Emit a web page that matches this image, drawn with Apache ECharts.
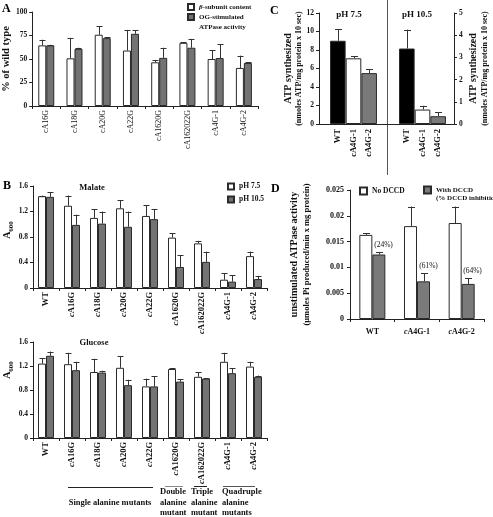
<!DOCTYPE html>
<html><head><meta charset="utf-8">
<script src="https://cdn.jsdelivr.net/npm/echarts@6/dist/echarts.min.js"></script>
<style>html,body{margin:0;padding:0;background:#fff}#c{width:493px;height:517px}</style>
</head><body><div id="c"></div>
<script>
// ---------- Panel A ----------
const aCategories = ['cA16G','cA18G','cA20G','cA22G','cA1620G','cA162022G','cA4G-1','cA4G-2'];
const aBeta      = [64.5, 50.7, 75.8, 59.0, 46.5, 67.2, 50.0, 40.5];
const aBetaErr   = [70.5, 72.5, 85.0, 81.0, 49.0, 68.0, 59.6, 53.6];
const aOG        = [64.5, 60.8, 72.2, 76.8, 51.2, 62.0, 51.0, 45.8];
const aOGErr     = [65.2, 62.0, 73.3, 80.4, 62.0, 71.4, 66.0, 46.5];
const aTicks     = [0, 25, 50, 75, 100];
// ---------- Panel B ----------
const bCategories   = ['WT','cA16G','cA18G','cA20G','cA22G','cA1620G','cA162022G','cA4G-1','cA4G-2'];
const malate75      = [1.44, 1.29, 1.10, 1.25, 1.13, 0.79, 0.70, 0.13, 0.50];
const malate75Err   = [1.45, 1.45, 1.24, 1.38, 1.30, 0.86, 0.74, 0.23, 0.57];
const malate105     = [1.43, 0.99, 1.01, 0.96, 1.08, 0.33, 0.41, 0.10, 0.14];
const malate105Err  = [1.50, 1.15, 1.20, 1.20, 1.24, 0.51, 0.57, 0.20, 0.19];
const glucose75     = [1.24, 1.23, 1.10, 1.17, 0.86, 1.15, 1.02, 1.27, 1.19];
const glucose75Err  = [1.33, 1.42, 1.32, 1.36, 0.99, 1.16, 1.10, 1.42, 1.27];
const glucose105    = [1.37, 1.13, 1.09, 0.88, 0.86, 0.94, 0.99, 1.08, 1.02];
const glucose105Err = [1.44, 1.27, 1.12, 0.97, 1.03, 0.98, 1.00, 1.16, 1.04];
const bTicks        = [0, 0.4, 0.8, 1.2, 1.6];
// ---------- Panel C ----------
const cCategories = ['WT','cA4G-1','cA4G-2'];
const cPH75       = [9.0, 7.1, 5.5];
const cPH75Err    = [10.25, 7.3, 5.9];
const cPH105      = [3.4, 0.65, 0.35];
const cPH105Err   = [4.25, 0.82, 0.54];
const cLeftTicks  = [0, 2, 4, 6, 8, 10, 12];
const cRightTicks = [0, 1, 2, 3, 4, 5];
// ---------- Panel D ----------
const dCategories  = ['WT','cA4G-1','cA4G-2'];
const dNoDCCD      = [0.0163, 0.0180, 0.0186];
const dNoDCCDErr   = [0.0166, 0.0218, 0.0218];
const dWithDCCD    = [0.0125, 0.0073, 0.0068];
const dWithDCCDErr = [0.0130, 0.0089, 0.0079];
const dInhibition  = ['(24%)','(61%)','(64%)'];
const dTicks       = [0, 0.005, 0.01, 0.015, 0.02, 0.025];

const FONT = '"Liberation Serif","Times New Roman",serif';
const GRAY = '#737373';
const EDGE = '#2a2a2a';
const AX = '#222';

function italC(v){ return v.charAt(0) === 'c' ? '{i|c}' + v.slice(1) : v; }
const italRich = function(sz){ return { i:{fontStyle:'italic', fontWeight:'bold', fontFamily:FONT, fontSize:sz, color:'#111'} }; };

function barS(name, xi, yi, data, color, bw, extra){
  return Object.assign({type:'bar', name:name, xAxisIndex:xi, yAxisIndex:yi, data:data,
    barWidth:bw, barGap:'0%', animation:false, silent:true,
    itemStyle:{color:color, borderColor:EDGE, borderWidth:1}}, extra || {});
}
function errS(xi, yi, vals, errs, dx, cap, texts){
  return {type:'custom', xAxisIndex:xi, yAxisIndex:yi, z:5, animation:false, silent:true,
    data: vals.map(function(v,i){ return [i, v, errs[i]]; }),
    encode:{x:0, y:[1,2]},
    renderItem: function(p, api){
      var i = api.value(0);
      var a = api.coord([i, api.value(1)]);
      var b = api.coord([i, api.value(2)]);
      var x = Math.round(a[0] + dx) + 0.5;
      var st = {stroke:'#333', lineWidth:1};
      var ch = [
        {type:'line', shape:{x1:x, y1:a[1], x2:x, y2:b[1]}, style:st},
        {type:'line', shape:{x1:x-cap/2, y1:Math.round(b[1])+0.5, x2:x+cap/2, y2:Math.round(b[1])+0.5}, style:st}
      ];
      if (texts) ch.push({type:'text', x:x+4, y:b[1]-7,
        style:{text:texts[p.dataIndex], fontFamily:FONT, fontSize:7.5, fill:'#111', align:'center', verticalAlign:'middle'}});
      return {type:'group', children:ch};
    }};
}
function yAx(gi, ticks, extra){
  return Object.assign({type:'value', gridIndex:gi, min:ticks[0], max:ticks[ticks.length-1],
    interval:ticks[1]-ticks[0],
    axisLine:{show:true, onZero:false, lineStyle:{color:AX}},
    axisTick:{show:true, length:3, lineStyle:{color:AX}},
    splitLine:{show:false},
    axisLabel:{fontFamily:FONT, fontWeight:'bold', fontSize:7.5, color:'#111', margin:5}}, extra || {});
}
function xCat(gi, cats, extra){
  return Object.assign({type:'category', gridIndex:gi, data:cats,
    axisLine:{show:true, onZero:false, lineStyle:{color:AX}},
    axisTick:{show:true, length:3, lineStyle:{color:AX}},
    splitLine:{show:false}}, extra || {});
}
function legendBase(extra){
  return Object.assign({padding:0, itemWidth:6, itemHeight:6, selectedMode:false, icon:'rect'}, extra);
}

const option = {
  animation:false,
  textStyle:{fontFamily:FONT},
  grid:[
    {left:31, top:12, width:227, height:94},     // A
    {left:33, top:186, width:234, height:102},   // B malate
    {left:33, top:342, width:234, height:96},    // B glucose
    {left:319, top:13, width:135, height:111},   // C frame
    {left:330, top:13, width:47, height:111},    // C left bars
    {left:399, top:13, width:47, height:111},    // C right bars
    {left:350, top:190, width:134, height:129}   // D
  ],
  xAxis:[
    xCat(0, aCategories, {axisLabel:{rotate:90, interval:0, fontFamily:FONT, fontSize:8, color:'#111', margin:4}}),
    xCat(1, bCategories, {axisLabel:{rotate:90, interval:0, fontFamily:FONT, fontWeight:'bold', fontSize:8.5, color:'#111', margin:4, formatter:italC, rich:italRich(8.5)}}),
    xCat(2, bCategories, {axisLabel:{rotate:90, interval:0, fontFamily:FONT, fontWeight:'bold', fontSize:8.5, color:'#111', margin:4, formatter:italC, rich:italRich(8.5)}}),
    {type:'value', gridIndex:3, min:0, max:1, axisLine:{show:true, onZero:false, lineStyle:{color:AX}}, axisTick:{show:false}, axisLabel:{show:false}, splitLine:{show:false}},
    xCat(4, cCategories, {axisLine:{show:false}, axisTick:{show:false}, axisLabel:{rotate:90, interval:0, fontFamily:FONT, fontWeight:'bold', fontSize:8.5, color:'#111', margin:5}}),
    xCat(5, cCategories, {axisLine:{show:false}, axisTick:{show:false}, axisLabel:{rotate:90, interval:0, fontFamily:FONT, fontWeight:'bold', fontSize:8.5, color:'#111', margin:5}}),
    xCat(6, dCategories, {axisLabel:{interval:0, fontFamily:FONT, fontWeight:'bold', fontSize:8, color:'#111', margin:9, formatter:italC, rich:italRich(8)}})
  ],
  yAxis:[
    yAx(0, aTicks, {name:'% of wild type', nameLocation:'middle', nameRotate:90, nameGap:17,
      nameTextStyle:{fontFamily:FONT, fontWeight:'bold', fontSize:10.5, color:'#111'}}),
    yAx(1, bTicks, {name:'{a|A}{s|600}', nameLocation:'middle', nameRotate:90, nameGap:15,
      axisLabel:{fontFamily:FONT, fontWeight:'bold', fontSize:7.5, color:'#111', margin:5, formatter:function(v){return v===0?'0':v.toFixed(1);}},
      nameTextStyle:{padding:[0,0,0,14], rich:{a:{fontFamily:FONT, fontWeight:'bold', fontSize:10, lineHeight:14, color:'#111'}, s:{fontFamily:FONT, fontWeight:'bold', fontSize:7, lineHeight:14, verticalAlign:'bottom', padding:[6,0,0,0], color:'#111'}}}}),
    yAx(2, bTicks, {name:'{a|A}{s|600}', nameLocation:'middle', nameRotate:90, nameGap:15,
      axisLabel:{fontFamily:FONT, fontWeight:'bold', fontSize:7.5, color:'#111', margin:5, formatter:function(v){return v===0?'0':v.toFixed(1);}},
      nameTextStyle:{padding:[0,0,0,40], rich:{a:{fontFamily:FONT, fontWeight:'bold', fontSize:10, lineHeight:14, color:'#111'}, s:{fontFamily:FONT, fontWeight:'bold', fontSize:7, lineHeight:14, verticalAlign:'bottom', padding:[6,0,0,0], color:'#111'}}}}),
    yAx(3, cLeftTicks, {name:'{a|ATP synthesized}\n{b|(nmoles ATP/mg protein x 10 sec)}', nameLocation:'middle', nameRotate:90, nameGap:12,
      nameTextStyle:{rich:{a:{fontFamily:FONT, fontWeight:'bold', fontSize:10, lineHeight:11, color:'#111'}, b:{fontFamily:FONT, fontWeight:'bold', fontSize:8, lineHeight:10, color:'#111'}}}}),
    yAx(3, cRightTicks, {position:'right', name:'{a|ATP synthesized}\n{b|(nmoles ATP/mg protein x 10 sec)}', nameLocation:'middle', nameRotate:90, nameGap:13,
      nameTextStyle:{rich:{a:{fontFamily:FONT, fontWeight:'bold', fontSize:10, lineHeight:12, color:'#111'}, b:{fontFamily:FONT, fontWeight:'bold', fontSize:8, lineHeight:12, color:'#111'}}}}),
    yAx(4, cLeftTicks, {show:false}),
    yAx(5, cRightTicks, {show:false}),
    yAx(6, dTicks, {name:'{a|unstimulated ATPase activity}\n{b|(\u03bcmoles Pi produced/min x mg protein)}', nameLocation:'middle', nameRotate:90, nameGap:37,
      axisLabel:{fontFamily:FONT, fontWeight:'bold', fontSize:8, color:'#111', margin:6, formatter:function(v){return String(+v.toFixed(4));}},
      nameTextStyle:{rich:{a:{fontFamily:FONT, fontWeight:'bold', fontSize:10, lineHeight:13, color:'#111'}, b:{fontFamily:FONT, fontWeight:'bold', fontSize:8.5, lineHeight:12, color:'#111'}}}})
  ],
  legend:[
    legendBase({left:187, top:2, data:['\u03b2-subunit content'],
      formatter:function(){ return '{i|\u03b2}-subunit content'; },
      textStyle:{fontFamily:FONT, fontWeight:'bold', fontSize:7, lineHeight:10, color:'#111', rich:italRich(7)}}),
    legendBase({left:187, top:2, data:[{name:'OG-stimulated ATPase activity', textStyle:{padding:[10,0,0,0]}}],
      formatter:function(){ return '{t|OG-stimulated}\n{t|ATPase activity}'; },
      textStyle:{fontFamily:FONT, fontWeight:'bold', fontSize:7, lineHeight:10, color:'#111',
        rich:{t:{fontFamily:FONT, fontWeight:'bold', fontSize:7, lineHeight:10, color:'#111'}}}}),
    legendBase({left:227, top:182, orient:'vertical', itemGap:4, data:['pH 7.5','pH 10.5'],
      textStyle:{fontFamily:FONT, fontWeight:'bold', fontSize:7.5, lineHeight:9, color:'#111'}}),
    legendBase({left:359, top:186.5, itemWidth:7, itemHeight:7, data:['No DCCD'],
      textStyle:{fontFamily:FONT, fontWeight:'bold', fontSize:7.5, lineHeight:9, color:'#111'}}),
    legendBase({left:423, top:178, itemWidth:7, itemHeight:7,
      data:[{name:'With DCCD', textStyle:{padding:[8,0,0,0]}}],
      formatter:function(){ return '{t|With DCCD}\n{t|(% DCCD inhibition)}'; },
      textStyle:{fontFamily:FONT, fontWeight:'bold', fontSize:7, lineHeight:8, color:'#111',
        rich:{t:{fontFamily:FONT, fontWeight:'bold', fontSize:7, lineHeight:8, color:'#111'}}}})
  ],
  series:[
    barS('\u03b2-subunit content', 0, 0, aBeta, '#fff', 8),
    barS('OG-stimulated ATPase activity', 0, 0, aOG, GRAY, 8),
    errS(0, 0, aBeta, aBetaErr, -4, 6),
    errS(0, 0, aOG, aOGErr, 4, 6),

    barS('pH 7.5', 1, 1, malate75, '#fff', 8),
    barS('pH 10.5', 1, 1, malate105, GRAY, 8),
    errS(1, 1, malate75, malate75Err, -4, 6),
    errS(1, 1, malate105, malate105Err, 4, 6),

    barS('pH 7.5', 2, 2, glucose75, '#fff', 8),
    barS('pH 10.5', 2, 2, glucose105, GRAY, 8),
    errS(2, 2, glucose75, glucose75Err, -4, 6),
    errS(2, 2, glucose105, glucose105Err, 4, 6),

    barS('C pH 7.5', 4, 5, cPH75, '#000', 15.6, {barCategoryGap:'0%',
      itemStyle:{borderColor:EDGE, borderWidth:1, color:function(p){ return ['#000','#fff','#7a7a7a'][p.dataIndex]; }}}),
    barS('C pH 10.5', 5, 6, cPH105, '#000', 15.6, {barCategoryGap:'0%',
      itemStyle:{borderColor:EDGE, borderWidth:1, color:function(p){ return ['#000','#fff','#7a7a7a'][p.dataIndex]; }}}),
    errS(4, 5, cPH75, cPH75Err, 0, 7),
    errS(5, 6, cPH105, cPH105Err, 0, 7),

    barS('No DCCD', 6, 7, dNoDCCD, '#fff', 13),
    barS('With DCCD', 6, 7, dWithDCCD, '#7a7a7a', 13),
    errS(6, 7, dNoDCCD, dNoDCCDErr, -6.5, 7),
    errS(6, 7, dWithDCCD, dWithDCCDErr, 6.5, 7, dInhibition)
  ],
  graphic:[
    {type:'text', left:2, top:3, style:{text:'A', fontFamily:FONT, fontWeight:'bold', fontSize:12, fill:'#000'}},
    {type:'text', left:3, top:180, style:{text:'B', fontFamily:FONT, fontWeight:'bold', fontSize:12, fill:'#000'}},
    {type:'text', left:270, top:5, style:{text:'C', fontFamily:FONT, fontWeight:'bold', fontSize:12, fill:'#000'}},
    {type:'text', left:271, top:183, style:{text:'D', fontFamily:FONT, fontWeight:'bold', fontSize:12, fill:'#000'}},
    {type:'text', x:92, y:188, style:{text:'Malate', fontFamily:FONT, fontWeight:'bold', fontSize:8.5, fill:'#111', align:'center', verticalAlign:'middle'}},
    {type:'text', x:94, y:343, style:{text:'Glucose', fontFamily:FONT, fontWeight:'bold', fontSize:8.5, fill:'#111', align:'center', verticalAlign:'middle'}},
    {type:'text', x:349, y:15, style:{text:'pH 7.5', fontFamily:FONT, fontWeight:'bold', fontSize:9, fill:'#111', align:'center', verticalAlign:'middle'}},
    {type:'text', x:417, y:15, style:{text:'pH 10.5', fontFamily:FONT, fontWeight:'bold', fontSize:9, fill:'#111', align:'center', verticalAlign:'middle'}},
    {type:'line', shape:{x1:387.5, y1:0, x2:387.5, y2:175}, style:{stroke:'#555', lineWidth:1}},
    {type:'line', shape:{x1:68, y1:487.5, x2:153, y2:487.5}, style:{stroke:'#222', lineWidth:1}},
    {type:'line', shape:{x1:165, y1:486.5, x2:183, y2:486.5}, style:{stroke:'#888', lineWidth:1}},
    {type:'line', shape:{x1:194, y1:486.5, x2:207, y2:486.5}, style:{stroke:'#222', lineWidth:1}},
    {type:'line', shape:{x1:223, y1:486.5, x2:255, y2:486.5}, style:{stroke:'#555', lineWidth:1}},
    {type:'text', x:110, y:503, style:{text:'Single alanine mutants', fontFamily:FONT, fontWeight:'bold', fontSize:8.5, fill:'#111', align:'center', verticalAlign:'middle'}},
    {type:'text', x:160, y:487, style:{text:'Double\nalanine\nmutant', fontFamily:FONT, fontWeight:'bold', fontSize:8.5, lineHeight:10.5, fill:'#111', align:'left', verticalAlign:'top'}},
    {type:'text', x:191, y:487, style:{text:'Triple\nalanine\nmutant', fontFamily:FONT, fontWeight:'bold', fontSize:8.5, lineHeight:10.5, fill:'#111', align:'left', verticalAlign:'top'}},
    {type:'text', x:222, y:487, style:{text:'Quadruple\nalanine\nmutants', fontFamily:FONT, fontWeight:'bold', fontSize:8.5, lineHeight:10.5, fill:'#111', align:'left', verticalAlign:'top'}}
  ]
};
const chart = echarts.init(document.getElementById('c'), null, {renderer:'canvas'});
chart.setOption(option);
</script></body></html>
